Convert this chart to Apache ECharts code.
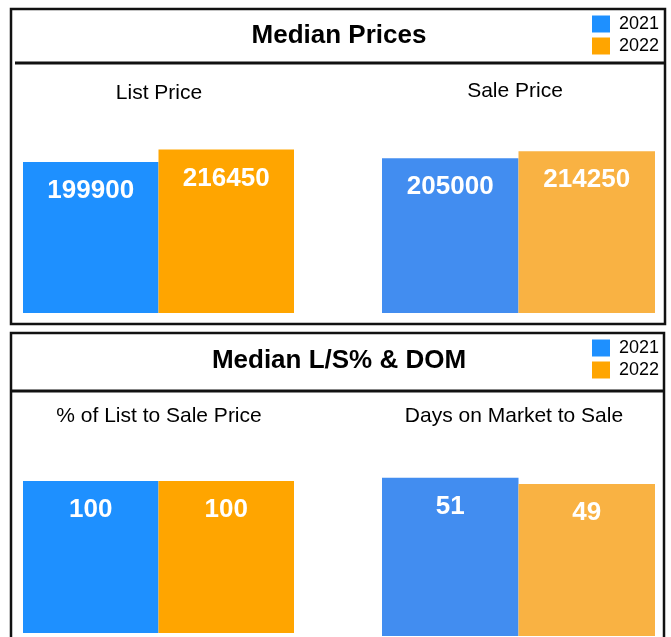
<!DOCTYPE html>
<html>
<head>
<meta charset="utf-8">
<script src="https://cdn.jsdelivr.net/npm/echarts@6/dist/echarts.min.js"></script>
<style>
  html, body { margin: 0; padding: 0; background: #fff; }
  #main { width: 671px; height: 637px; }
</style>
</head>
<body>
<div id="main"></div>
<script>
// data
const years = ['2021', '2022'];
const listPrice = [199900, 216450];
const salePrice = [205000, 214250];
const listToSale = [100, 100];
const daysOnMarket = [51, 49];
const panelTitles = ['Median Prices', 'Median L/S% & DOM'];
const subTitles = ['List Price', 'Sale Price', '% of List to Sale Price', 'Days on Market to Sale'];

const leftColors = ['#1e90ff', '#ffa500'];
const rightColors = ['#428df0', '#f9b243'];

const chart = echarts.init(document.getElementById('main'));

// grids: [left, top, width, height]
const grids = [
  { left: 23, top: 100, width: 271, height: 213 },
  { left: 382, top: 100, width: 273, height: 213 },
  { left: 23, top: 433, width: 271, height: 200 },
  { left: 382, top: 436, width: 273, height: 200 }
];
const maxes = [282000, 282000, 131.6, 64.5];
const values = [listPrice, salePrice, listToSale, daysOnMarket];

const series = [];
values.forEach(function (vals, g) {
  const colors = g % 2 === 0 ? leftColors : rightColors;
  years.forEach(function (y, i) {
    series.push({
      name: y,
      type: 'bar',
      xAxisIndex: g,
      yAxisIndex: g,
      barGap: '0%',
      barCategoryGap: '0%',
      data: [vals[i]],
      itemStyle: { color: colors[i] },
      label: {
        show: true,
        position: 'insideTop',
        distance: 16,
        color: '#fff',
        fontSize: 26,
        fontWeight: 'bold',
        fontFamily: 'Liberation Sans, Arial, sans-serif'
      },
      animation: false
    });
  });
});

function legendAt(top) {
  return {
    orient: 'vertical',
    left: 587,
    top: top,
    itemWidth: 18,
    itemHeight: 17,
    itemGap: 4,
    icon: 'rect',
    selectedMode: false,
    textStyle: { fontSize: 18, color: '#000', fontFamily: 'Liberation Sans, Arial, sans-serif', padding: [0, 0, 0, 4] },
    data: [
      { name: '2021', itemStyle: { color: leftColors[0] } },
      { name: '2022', itemStyle: { color: leftColors[1] } }
    ]
  };
}

const font = 'Liberation Sans, Arial, sans-serif';
function txt(x, y, s, size, bold) {
  return {
    type: 'text', x: x, y: y, z: 10,
    style: { text: s, fontSize: size, fontWeight: bold ? 'bold' : 'normal', fontFamily: font, fill: '#000', align: 'center', verticalAlign: 'middle' }
  };
}

const option = {
  backgroundColor: '#fff',
  animation: false,
  grid: grids,
  xAxis: grids.map(function (g, i) {
    return { type: 'category', gridIndex: i, data: ['x'], show: false };
  }),
  yAxis: grids.map(function (g, i) {
    return { type: 'value', gridIndex: i, min: 0, max: maxes[i], show: false };
  }),
  legend: [legendAt(10), legendAt(334)],
  graphic: [
    { type: 'rect', shape: { x: 11, y: 9, width: 654, height: 315 }, style: { fill: 'none', stroke: '#111', lineWidth: 2.5 } },
    { type: 'line', shape: { x1: 15, y1: 63, x2: 664, y2: 63 }, style: { stroke: '#111', lineWidth: 3 } },
    { type: 'rect', shape: { x: 11, y: 333, width: 653, height: 320 }, style: { fill: 'none', stroke: '#111', lineWidth: 2.5 } },
    { type: 'line', shape: { x1: 12, y1: 391, x2: 663, y2: 391 }, style: { stroke: '#111', lineWidth: 3 } },
    txt(339, 36, panelTitles[0], 26, true),
    txt(339, 361, panelTitles[1], 26, true),
    txt(159, 93, subTitles[0], 21, false),
    txt(515, 91, subTitles[1], 21, false),
    txt(159, 416, subTitles[2], 21, false),
    txt(514, 416, subTitles[3], 21, false)
  ],
  series: series
};
chart.setOption(option);
</script>
</body>
</html>
